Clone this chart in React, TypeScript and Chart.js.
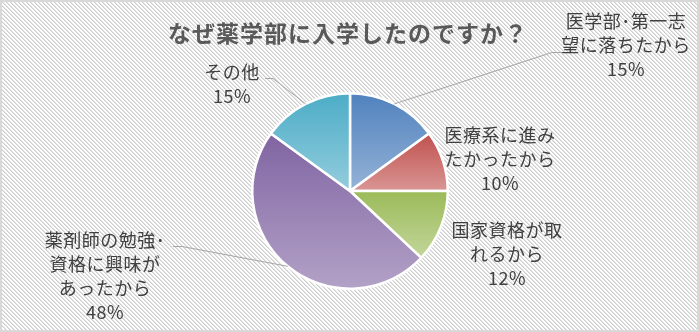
import React, { useEffect, useRef } from "react";
import { Chart, registerables } from "chart.js";

Chart.register(...registerables);

const titleText = "なぜ薬学部に入学したのですか？";
const categories = [
  "医学部･第一志望に落ちたから",
  "医療系に進みたかったから",
  "国家資格が取れるから",
  "薬剤師の勉強･資格に興味があったから",
  "その他",
];
const labelLines = [
  ["医学部･第一志", "望に落ちたから"],
  ["医療系に進み", "たかったから"],
  ["国家資格が取", "れるから"],
  ["薬剤師の勉強･", "資格に興味が", "あったから"],
  ["その他"],
];
const values = [15, 10, 12, 48, 15];
const darkColors = ["#4F81BD", "#C0504D", "#9BBB59", "#8064A2", "#4BACC6"];
const lightColors = ["#95B3D7", "#D99694", "#C3D69B", "#B3A2C7", "#93CDDD"];

// layout (label block centre x, first line y) and leader elbows
const labelAnchors = [
  [626, 21],
  [500, 135],
  [507, 230],
  [105, 240],
  [232, 72],
];
const leaderElbows: (number[][] | null)[] = [
  [[552, 52], [563, 52]],
  null,
  null,
  [[182, 246], [173, 246]],
  [[273, 78], [265, 78]],
];

const total = values.reduce((a, b) => a + b, 0);

function sliceAngles(i: number) {
  let before = 0;
  for (let k = 0; k < i; k++) before += values[k];
  const start = -Math.PI / 2 + (before / total) * Math.PI * 2;
  const end = start + (values[i] / total) * Math.PI * 2;
  return [start, end];
}

const bgPlugin = {
  id: "bgPattern",
  beforeDraw(chart: any) {
    const { ctx, width, height } = chart;
    const tile = document.createElement("canvas");
    tile.width = 4;
    tile.height = 4;
    const tctx = tile.getContext("2d")!;
    tctx.fillStyle = "#ffffff";
    tctx.fillRect(0, 0, 4, 4);
    for (let y = 0; y < 4; y++) {
      for (let x = 0; x < 4; x++) {
        const m = (((x - y) % 4) + 4) % 4;
        if (m === 0) {
          tctx.fillStyle = "#cdcdcd";
          tctx.fillRect(x, y, 1, 1);
        } else if (m === 1) {
          tctx.fillStyle = "#e4e4e4";
          tctx.fillRect(x, y, 1, 1);
        }
      }
    }
    const pat = ctx.createPattern(tile, "repeat");
    ctx.save();
    ctx.fillStyle = pat;
    ctx.fillRect(0, 0, width, height);
    ctx.strokeStyle = "#d9d9d9";
    ctx.lineWidth = 2;
    ctx.strokeRect(1, 1, width - 2, height - 2);
    ctx.restore();
  },
};

const textPlugin = {
  id: "texts",
  afterDraw(chart: any) {
    const { ctx } = chart;
    const meta = chart.getDatasetMeta(0);
    ctx.save();
    // title
    ctx.fillStyle = "#595959";
    ctx.font = "bold 23px 'Noto Sans CJK JP'";
    ctx.letterSpacing = "1px";
    ctx.textAlign = "center";
    ctx.textBaseline = "middle";
    ctx.fillText(titleText, 348, 33);

    // leader lines
    ctx.strokeStyle = "#a6a6a6";
    ctx.lineWidth = 1;
    meta.data.forEach((arc: any, i: number) => {
      const el = leaderElbows[i];
      if (!el) return;
      const mid = (arc.startAngle + arc.endAngle) / 2;
      const sx = arc.x + Math.cos(mid) * arc.outerRadius;
      const sy = arc.y + Math.sin(mid) * arc.outerRadius;
      ctx.beginPath();
      ctx.moveTo(sx, sy);
      el.forEach((p) => ctx.lineTo(p[0], p[1] + 0.5));
      ctx.stroke();
    });

    // labels
    ctx.fillStyle = "#404040";
    ctx.font = "18px 'Noto Sans CJK JP'";
    ctx.letterSpacing = "0.5px";
    labelLines.forEach((lines, i) => {
      const [x, y0] = labelAnchors[i];
      const all = [...lines, `${values[i]}%`];
      all.forEach((t, j) => {
        ctx.fillText(t, x, y0 + j * 24);
      });
    });
    ctx.restore();
  },
};

export default function App() {
  const ref = useRef<HTMLCanvasElement>(null);
  useEffect(() => {
    document.body.style.margin = "0";
    const chart = new Chart(ref.current!, {
      type: "pie",
      data: {
        labels: categories,
        datasets: [
          {
            data: values,
            borderColor: "#ffffff",
            borderWidth: 2.5,
            backgroundColor: (c: any) => {
              const i = c.dataIndex;
              const ch = c.chart;
              const ca = ch.chartArea;
              if (!ca || i === undefined) return darkColors[i ?? 0];
              const cx = (ca.left + ca.right) / 2;
              const cy = (ca.top + ca.bottom) / 2;
              const r = Math.min(ca.right - ca.left, ca.bottom - ca.top) / 2;
              const [s, e] = sliceAngles(i);
              let minY = cy;
              let maxY = cy;
              for (let k = 0; k <= 64; k++) {
                const a = s + ((e - s) * k) / 64;
                const y = cy + r * Math.sin(a);
                minY = Math.min(minY, y);
                maxY = Math.max(maxY, y);
              }
              const g = ch.ctx.createLinearGradient(0, minY, 0, maxY);
              g.addColorStop(0, darkColors[i]);
              g.addColorStop(1, lightColors[i]);
              return g;
            },
          },
        ],
      },
      options: {
        animation: false,
        responsive: true,
        maintainAspectRatio: false,
        layout: { padding: { left: 251, right: 250, top: 92, bottom: 42 } },
        plugins: {
          legend: { display: false },
          tooltip: { enabled: false },
          title: { display: false },
        },
        events: [],
      },
      plugins: [bgPlugin, textPlugin],
    });
    return () => chart.destroy();
  }, []);
  return (
    <div style={{ position: "fixed", left: 0, top: 0, width: 699, height: 332 }}>
      <canvas ref={ref} />
    </div>
  );
}
